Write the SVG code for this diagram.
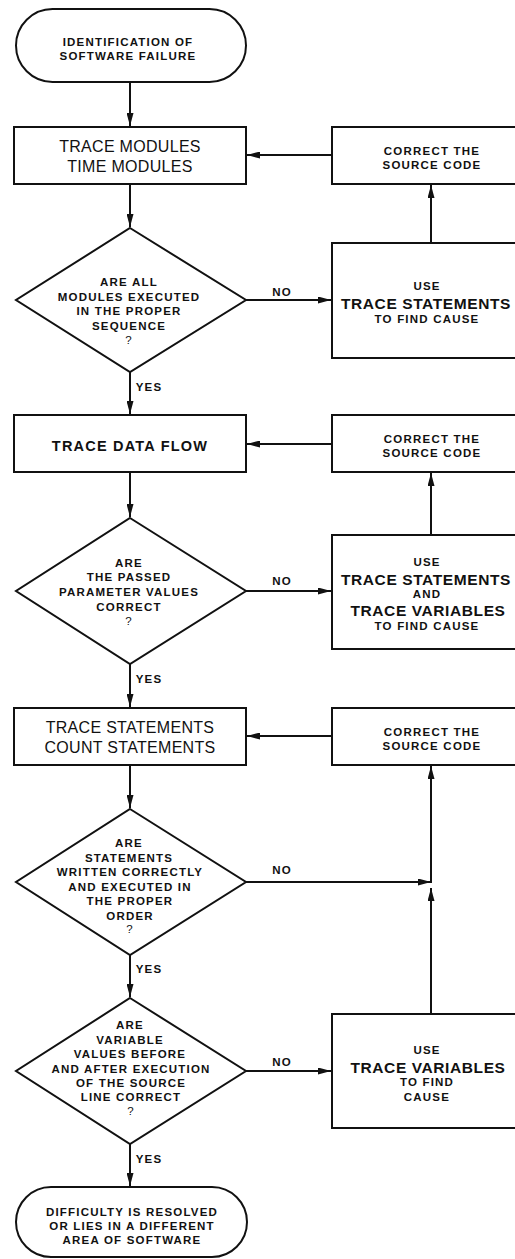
<svg xmlns="http://www.w3.org/2000/svg" width="515" height="1259" viewBox="0 0 515 1259">
<style>
  .shape { fill: #fff; stroke: #111; stroke-width: 2; }
  .conn { fill: none; stroke: #111; stroke-width: 2; }
  text { fill: #111; font-family: "Liberation Sans", Arial, sans-serif; text-anchor: middle; }
  .s { font-size: 11.5px; font-weight: bold; letter-spacing: 1.2px; }
  .b { font-size: 15.5px; font-weight: bold; letter-spacing: 0.6px; }
  .r { font-size: 16px; letter-spacing: 0.3px; }
  .m { font-size: 14.5px; font-weight: bold; letter-spacing: 1.2px; }
  .lbl { font-size: 11.5px; font-weight: bold; letter-spacing: 1.2px; }
</style>
<defs>
  <marker id="arr" viewBox="0 0 13 7" refX="13" refY="3.5" markerWidth="13" markerHeight="7" markerUnits="userSpaceOnUse" orient="auto">
    <path d="M0,0 L13,3.5 L0,7 z" fill="#111"/>
  </marker>
</defs>
<rect width="515" height="1259" fill="#fff"/>

<g id="connectors">
  <line class="conn" x1="130" y1="82" x2="130" y2="126" marker-end="url(#arr)"/>
  <line class="conn" x1="332" y1="155" x2="247" y2="155" marker-end="url(#arr)"/>
  <line class="conn" x1="130" y1="184" x2="130" y2="227" marker-end="url(#arr)"/>
  <line class="conn" x1="246" y1="300" x2="331" y2="300" marker-end="url(#arr)"/>
  <line class="conn" x1="431" y1="243" x2="431" y2="185" marker-end="url(#arr)"/>
  <line class="conn" x1="130" y1="372" x2="130" y2="414" marker-end="url(#arr)"/>
  <line class="conn" x1="332" y1="444" x2="247" y2="444" marker-end="url(#arr)"/>
  <line class="conn" x1="130" y1="472" x2="130" y2="517" marker-end="url(#arr)"/>
  <line class="conn" x1="246" y1="591" x2="331" y2="591" marker-end="url(#arr)"/>
  <line class="conn" x1="431" y1="535" x2="431" y2="473" marker-end="url(#arr)"/>
  <line class="conn" x1="130" y1="664" x2="130" y2="707" marker-end="url(#arr)"/>
  <line class="conn" x1="332" y1="736" x2="247" y2="736" marker-end="url(#arr)"/>
  <line class="conn" x1="130" y1="765" x2="130" y2="808" marker-end="url(#arr)"/>
  <line class="conn" x1="246" y1="882" x2="431" y2="882" marker-end="url(#arr)"/>
  <line class="conn" x1="431" y1="883" x2="431" y2="766" marker-end="url(#arr)"/>
  <line class="conn" x1="431" y1="1014" x2="431" y2="888" marker-end="url(#arr)"/>
  <line class="conn" x1="130" y1="955" x2="130" y2="997" marker-end="url(#arr)"/>
  <line class="conn" x1="246" y1="1071" x2="331" y2="1071" marker-end="url(#arr)"/>
  <line class="conn" x1="130" y1="1144" x2="130" y2="1186" marker-end="url(#arr)"/>
  <text class="lbl" x="282" y="296">NO</text>
  <text class="lbl" x="149" y="391">YES</text>
  <text class="lbl" x="282" y="585">NO</text>
  <text class="lbl" x="149" y="683">YES</text>
  <text class="lbl" x="282" y="874">NO</text>
  <text class="lbl" x="149" y="973">YES</text>
  <text class="lbl" x="282" y="1066">NO</text>
  <text class="lbl" x="149" y="1163">YES</text>
</g>

<g id="start">
  <rect class="shape" x="16" y="9" width="230" height="73" rx="36.5"/>
  <text class="s" x="128" y="46">IDENTIFICATION OF</text>
  <text class="s" x="128" y="60">SOFTWARE FAILURE</text>
</g>

<g id="trace-modules">
  <rect class="shape" x="14" y="127" width="232" height="57"/>
  <text class="r" x="130" y="152">TRACE MODULES</text>
  <text class="r" x="130" y="172">TIME MODULES</text>
</g>

<g id="correct-1">
  <rect class="shape" x="332" y="127" width="190" height="57"/>
  <text class="s" x="432" y="154.5">CORRECT THE</text>
  <text class="s" x="432" y="169">SOURCE CODE</text>
</g>

<g id="decision-1">
  <polygon class="shape" points="130,228 246,300 130,372 16,300"/>
  <text class="s" x="129" y="286">ARE ALL</text>
  <text class="s" x="129" y="300.5">MODULES EXECUTED</text>
  <text class="s" x="129" y="315">IN THE PROPER</text>
  <text class="s" x="129" y="329.5">SEQUENCE</text>
  <text class="s" x="129" y="344" style="font-weight:normal">?</text>
</g>

<g id="use-trace-statements">
  <rect class="shape" x="332" y="243" width="190" height="115"/>
  <text class="s" x="427" y="290">USE</text>
  <text class="b" x="426" y="309">TRACE STATEMENTS</text>
  <text class="s" x="427" y="323">TO FIND CAUSE</text>
</g>

<g id="trace-data-flow">
  <rect class="shape" x="14" y="415" width="232" height="57"/>
  <text class="m" x="130" y="451">TRACE DATA FLOW</text>
</g>

<g id="correct-2">
  <rect class="shape" x="332" y="415" width="190" height="57"/>
  <text class="s" x="432" y="442.5">CORRECT THE</text>
  <text class="s" x="432" y="457">SOURCE CODE</text>
</g>

<g id="decision-2">
  <polygon class="shape" points="130,518 246,591 130,664 16,591"/>
  <text class="s" x="129" y="566.5">ARE</text>
  <text class="s" x="129" y="581">THE PASSED</text>
  <text class="s" x="129" y="596">PARAMETER VALUES</text>
  <text class="s" x="129" y="610.5">CORRECT</text>
  <text class="s" x="129" y="624.5" style="font-weight:normal">?</text>
</g>

<g id="use-trace-statements-variables">
  <rect class="shape" x="332" y="535" width="190" height="114"/>
  <text class="s" x="427" y="566">USE</text>
  <text class="b" x="426" y="585">TRACE STATEMENTS</text>
  <text class="s" x="427" y="597.5">AND</text>
  <text class="b" x="428" y="615.5">TRACE VARIABLES</text>
  <text class="s" x="427" y="630">TO FIND CAUSE</text>
</g>

<g id="trace-statements">
  <rect class="shape" x="14" y="708" width="232" height="57"/>
  <text class="r" x="130" y="733">TRACE STATEMENTS</text>
  <text class="r" x="130" y="753">COUNT STATEMENTS</text>
</g>

<g id="correct-3">
  <rect class="shape" x="332" y="708" width="190" height="57"/>
  <text class="s" x="432" y="735.5">CORRECT THE</text>
  <text class="s" x="432" y="750">SOURCE CODE</text>
</g>

<g id="decision-3">
  <polygon class="shape" points="130,809 246,882 130,955 16,882"/>
  <text class="s" x="129" y="847">ARE</text>
  <text class="s" x="129" y="861.5">STATEMENTS</text>
  <text class="s" x="130" y="876">WRITTEN CORRECTLY</text>
  <text class="s" x="130" y="890.5">AND EXECUTED IN</text>
  <text class="s" x="130" y="905">THE PROPER</text>
  <text class="s" x="130" y="919.5">ORDER</text>
  <text class="s" x="130" y="933" style="font-weight:normal">?</text>
</g>

<g id="decision-4">
  <polygon class="shape" points="130,998 246,1071 130,1144 16,1071"/>
  <text class="s" x="130" y="1029">ARE</text>
  <text class="s" x="130" y="1043.5">VARIABLE</text>
  <text class="s" x="130" y="1058">VALUES BEFORE</text>
  <text class="s" x="131" y="1072.5">AND AFTER EXECUTION</text>
  <text class="s" x="131" y="1087">OF THE SOURCE</text>
  <text class="s" x="131" y="1101">LINE CORRECT</text>
  <text class="s" x="131" y="1115" style="font-weight:normal">?</text>
</g>

<g id="use-trace-variables">
  <rect class="shape" x="332" y="1014" width="190" height="114"/>
  <text class="s" x="427" y="1054">USE</text>
  <text class="b" x="428" y="1073">TRACE VARIABLES</text>
  <text class="s" x="427" y="1086">TO FIND</text>
  <text class="s" x="427" y="1100.5">CAUSE</text>
</g>

<g id="end">
  <rect class="shape" x="16" y="1187" width="231" height="70" rx="35"/>
  <text class="s" x="132" y="1216">DIFFICULTY IS RESOLVED</text>
  <text class="s" x="132" y="1230">OR LIES IN A DIFFERENT</text>
  <text class="s" x="132" y="1244">AREA OF SOFTWARE</text>
</g>
</svg>
